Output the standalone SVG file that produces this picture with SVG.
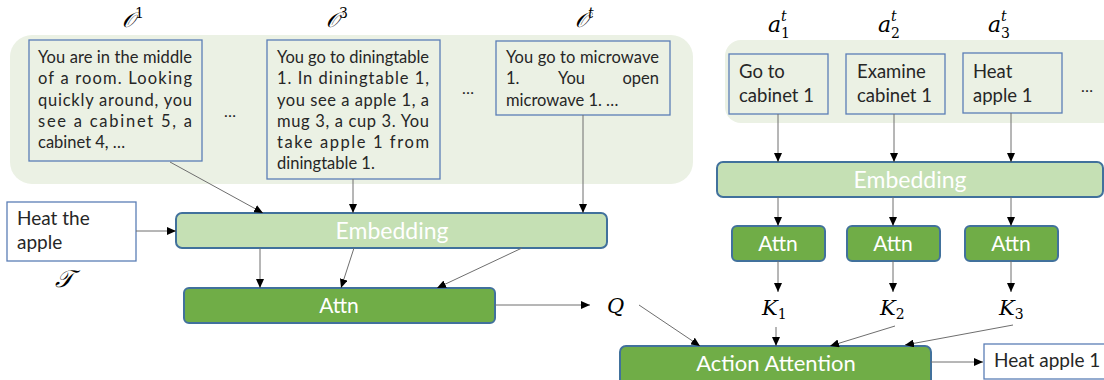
<svg xmlns="http://www.w3.org/2000/svg" width="1104" height="380" viewBox="0 0 1104 380">
<style>
.bg{fill:#EBF1E4;stroke:none}
.obs{fill:#EBF1E4;stroke:#5B7EB6;stroke-width:1.3}
.wbox{fill:#FFFFFF;stroke:#5B7EB6;stroke-width:1.3}
.emb{fill:#C5E0B4;stroke:#41719C;stroke-width:2}
.attn{fill:#70AD47;stroke:#41719C;stroke-width:2}
.t{font-family:Lato,"Liberation Sans",sans-serif;fill:#262626}
.obt{font-size:16.5px}
.lab{font-family:Lato,"Liberation Sans",sans-serif;fill:#FFFFFF;text-anchor:middle}
.m{font-family:"DejaVu Serif","Liberation Serif",serif;font-style:italic;fill:#000}
.c{stroke:#6E6E6E;stroke-width:1;fill:none;marker-end:url(#ah)}
</style>
<defs>
<marker id="ah" viewBox="0 0 9 8" refX="9" refY="4" markerWidth="9" markerHeight="8" markerUnits="userSpaceOnUse" orient="auto">
<path d="M0,0 L9,4 L0,8 z" fill="#000"/>
</marker>
</defs>

<rect class="bg" x="10" y="35" width="683" height="149" rx="22"/>
<rect class="bg" x="725" y="40" width="400" height="83" rx="16"/>

<g id="obs1">
<rect class="obs" x="29" y="40" width="173" height="121"/>
<text class="t obt" x="38" y="63" textLength="154" lengthAdjust="spacing">You are in the middle</text>
<text class="t obt" x="38" y="84" textLength="154" lengthAdjust="spacing">of a room. Looking</text>
<text class="t obt" x="38" y="106" textLength="154" lengthAdjust="spacing">quickly around, you</text>
<text class="t obt" x="38" y="127" textLength="154" lengthAdjust="spacing">see a cabinet 5, a</text>
<text class="t obt" x="38" y="148">cabinet 4, …</text>
</g>
<text class="t" x="230" y="117" font-size="16" text-anchor="middle">…</text>

<g id="obs3">
<rect class="obs" x="267" y="40" width="173" height="139"/>
<text class="t obt" x="277" y="63" textLength="152" lengthAdjust="spacing">You go to diningtable</text>
<text class="t obt" x="277" y="84" textLength="152" lengthAdjust="spacing">1. In diningtable 1,</text>
<text class="t obt" x="277" y="106" textLength="152" lengthAdjust="spacing">you see a apple 1, a</text>
<text class="t obt" x="277" y="127" textLength="152" lengthAdjust="spacing">mug 3, a cup 3. You</text>
<text class="t obt" x="277" y="148" textLength="152" lengthAdjust="spacing">take apple 1 from</text>
<text class="t obt" x="277" y="169">diningtable 1.</text>
</g>
<text class="t" x="468" y="94" font-size="16" text-anchor="middle">…</text>

<g id="obst">
<rect class="obs" x="496" y="41" width="174" height="74"/>
<text class="t obt" x="506" y="63" textLength="153" lengthAdjust="spacing">You go to microwave</text>
<text class="t obt" x="506" y="84">1.</text>
<text class="t obt" x="558" y="84">You</text>
<text class="t obt" x="659" y="84" text-anchor="end">open</text>
<text class="t obt" x="506" y="106">microwave 1. …</text>
</g>

<g id="labels">
<text class="m" x="122" y="27" font-size="21">𝒪<tspan font-size="14" font-style="normal" dy="-9">1</tspan></text>
<text class="m" x="326" y="27" font-size="21">𝒪<tspan font-size="14" font-style="normal" dy="-9">3</tspan></text>
<text class="m" x="575" y="27" font-size="21">𝒪<tspan font-size="14" dy="-9">t</tspan></text>
<text class="m" x="768" y="32" font-size="22">a</text><text class="m" x="781" y="21" font-size="14">t</text><text x="781" y="38" font-size="14" font-family="DejaVu Serif,serif">1</text>
<text class="m" x="878" y="32" font-size="22">a</text><text class="m" x="891" y="21" font-size="14">t</text><text x="891" y="38" font-size="14" font-family="DejaVu Serif,serif">2</text>
<text class="m" x="988" y="32" font-size="22">a</text><text class="m" x="1001" y="21" font-size="14">t</text><text x="1001" y="38" font-size="14" font-family="DejaVu Serif,serif">3</text>
<text class="m" x="55" y="287" font-size="24">𝒯</text>
<text class="m" x="607" y="313" font-size="21">Q</text>
<text class="m" x="762" y="315" font-size="21">K<tspan font-size="14" font-style="normal" dy="4">1</tspan></text>
<text class="m" x="880" y="315" font-size="21">K<tspan font-size="14" font-style="normal" dy="4">2</tspan></text>
<text class="m" x="999" y="315" font-size="21">K<tspan font-size="14" font-style="normal" dy="4">3</tspan></text>
</g>

<g id="act1">
<rect class="obs" x="729" y="54" width="99" height="60"/>
<text class="t" x="739" y="78" font-size="18.5">Go to</text>
<text class="t" x="739" y="102" font-size="18.5">cabinet 1</text>
</g>
<g id="act2">
<rect class="obs" x="846" y="54" width="99" height="60"/>
<text class="t" x="857" y="78" font-size="18.5">Examine</text>
<text class="t" x="857" y="102" font-size="18.5">cabinet 1</text>
</g>
<g id="act3">
<rect class="obs" x="963" y="53" width="99" height="60"/>
<text class="t" x="973" y="78" font-size="18.5">Heat</text>
<text class="t" x="973" y="102" font-size="18.5">apple 1</text>
</g>
<text class="t" x="1087" y="92" font-size="16" text-anchor="middle">…</text>

<g id="task">
<rect class="wbox" x="7" y="202" width="129" height="59"/>
<text class="t" x="17" y="225" font-size="19">Heat the</text>
<text class="t" x="17" y="249" font-size="19">apple</text>
</g>

<g id="embL">
<rect class="emb" x="176" y="213" width="431" height="35" rx="6"/>
<text class="lab" x="392" y="239" font-size="23">Embedding</text>
</g>
<g id="attnL">
<rect class="attn" x="184" y="288" width="311" height="35" rx="5"/>
<text class="lab" x="339" y="313" font-size="21">Attn</text>
</g>

<g id="embR">
<rect class="emb" x="717" y="162" width="386" height="35" rx="6"/>
<text class="lab" x="910" y="188" font-size="23">Embedding</text>
</g>
<g id="attn1">
<rect class="attn" x="732" y="226" width="93" height="35" rx="5"/>
<text class="lab" x="778" y="251" font-size="21">Attn</text>
</g>
<g id="attn2">
<rect class="attn" x="847" y="226" width="93" height="35" rx="5"/>
<text class="lab" x="893" y="251" font-size="21">Attn</text>
</g>
<g id="attn3">
<rect class="attn" x="965" y="226" width="93" height="35" rx="5"/>
<text class="lab" x="1011" y="251" font-size="21">Attn</text>
</g>

<g id="actattn">
<rect class="attn" x="620" y="346" width="311" height="40" rx="6"/>
<text class="lab" x="776" y="371" font-size="22">Action Attention</text>
</g>
<g id="out">
<rect class="wbox" x="984" y="344" width="130" height="35"/>
<text class="t" x="994" y="367" font-size="19">Heat apple 1</text>
</g>

<g id="connectors">
<line class="c" x1="170" y1="162" x2="263" y2="213"/>
<line class="c" x1="353" y1="179" x2="353" y2="213"/>
<line class="c" x1="583" y1="115" x2="583" y2="213"/>
<line class="c" x1="136" y1="231" x2="176" y2="231"/>
<line class="c" x1="260" y1="248" x2="260" y2="288"/>
<line class="c" x1="354" y1="248" x2="341" y2="288"/>
<line class="c" x1="522" y1="248" x2="437" y2="288"/>
<line class="c" x1="495" y1="305" x2="590" y2="305"/>
<line class="c" x1="778" y1="114" x2="778" y2="162"/>
<line class="c" x1="894" y1="114" x2="894" y2="162"/>
<line class="c" x1="1011" y1="113" x2="1011" y2="162"/>
<line class="c" x1="778" y1="197" x2="778" y2="226"/>
<line class="c" x1="893" y1="197" x2="893" y2="226"/>
<line class="c" x1="1011" y1="197" x2="1011" y2="226"/>
<line class="c" x1="778" y1="261" x2="778" y2="292"/>
<line class="c" x1="893" y1="261" x2="893" y2="292"/>
<line class="c" x1="1011" y1="261" x2="1011" y2="292"/>
<line class="c" x1="639" y1="305" x2="700" y2="346"/>
<line class="c" x1="776" y1="327" x2="776" y2="346"/>
<line class="c" x1="895" y1="326" x2="830" y2="346"/>
<line class="c" x1="1013" y1="325" x2="905" y2="345"/>
<line class="c" x1="931" y1="362" x2="983" y2="362"/>
</g>
</svg>
